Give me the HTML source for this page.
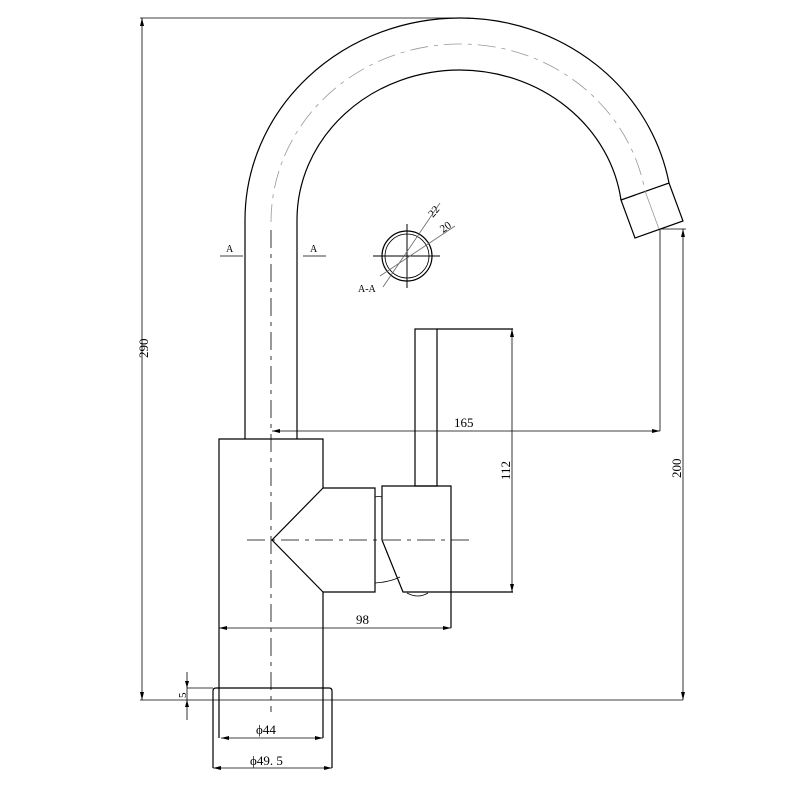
<!DOCTYPE html>
<html><head><meta charset="utf-8"><style>html,body{margin:0;padding:0;background:#fff}svg{display:block}</style></head>
<body>
<svg width="800" height="800" viewBox="0 0 800 800" xmlns="http://www.w3.org/2000/svg" font-family="Liberation Serif, serif" font-size="13" fill="none" stroke="#000">
<g stroke-width="1.2">
<!-- spout -->
<path d="M245,439 L245,220 A215 202 0 0 1 460,18 A212 202 0 0 1 669,183"/>
<path d="M297,439 L297,220 A163 150 0 0 1 460,70 A163 150 0 0 1 621,200"/>
<path d="M621,200 L669,183 L683,221 L635,238 Z"/>
<!-- body -->
<path d="M219,738 L219,439 L323,439 L323,488 L375,488 L375,592 L323,592 L323,738"/>
<path d="M323,488 L272,540 L323,592"/>
<!-- handle -->
<path d="M382,540 L382,486 L451,486 L451,628"/>
<path d="M382,540 L403,592 L513,592"/>
<rect x="415" y="329" width="22" height="157"/>
<line x1="437" y1="329" x2="513" y2="329"/>
<!-- base -->
<path d="M213,768 L213,691 Q213,688 216,688 L329,688 Q332,688 332,691 L332,768"/>
</g>
<g stroke-width="0.8">
<path d="M375,497 Q379,496 382,497"/>
<path d="M375,583 Q390,582 400,577"/>
<path d="M407,593 Q418,599 428,593"/>
<!-- centerlines -->
<line x1="271" y1="230" x2="271" y2="712" stroke-dasharray="18,6,4,6"/>
<path d="M271,222 A189 178 0 0 1 460,44 A187 178 0 0 1 645,191" stroke="#999" stroke-dasharray="18,6,4,6"/>
<line x1="247" y1="540" x2="475" y2="540" stroke-dasharray="18,6,4,6"/>
<line x1="645" y1="191" x2="659" y2="229" stroke="#999"/>
<!-- dims -->
<line x1="140" y1="18" x2="470" y2="18"/>
<line x1="142" y1="18" x2="142" y2="700"/>
<line x1="140" y1="700" x2="683" y2="700"/>
<line x1="660" y1="229" x2="686" y2="229"/>
<line x1="660" y1="229" x2="660" y2="431"/>
<line x1="683" y1="229" x2="683" y2="700"/>
<line x1="272" y1="431" x2="660" y2="431"/>
<line x1="512" y1="329" x2="512" y2="592"/>
<line x1="219" y1="628" x2="451" y2="628"/>
<line x1="221" y1="738" x2="323" y2="738"/>
<line x1="213" y1="768" x2="332" y2="768"/>
<line x1="187" y1="672" x2="187" y2="720"/>
<line x1="187" y1="688" x2="213" y2="688"/>
<!-- section marks -->
<line x1="220" y1="256" x2="243" y2="256"/>
<line x1="303" y1="256" x2="326" y2="256"/>
<!-- section circle -->
<circle cx="407" cy="256" r="25" stroke-width="1.2"/>
<circle cx="407" cy="256" r="22"/>
<line x1="373" y1="256" x2="440" y2="256" stroke-width="1"/>
<line x1="407" y1="224" x2="407" y2="288" stroke-width="1"/>
<line x1="383" y1="287" x2="440" y2="203" stroke="#666"/>
<line x1="380" y1="276" x2="455" y2="226" stroke="#666"/>
</g>
<g fill="#000" stroke="none">
<path d="M142,18 l-2,8 h4z M142,700 l-2,-8 h4z M683,229 l-2,8 h4z M683,700 l-2,-8 h4z M272,431 l8,-2 v4z M660,431 l-8,-2 v4z M512,329 l-2,8 h4z M512,592 l-2,-8 h4z M219,628 l8,-2 v4z M451,628 l-8,-2 v4z M221,738 l8,-2 v4z M323,738 l-8,-2 v4z M213,768 l8,-2 v4z M332,768 l-8,-2 v4z M187,688 l-2,-7 h4z M187,700 l-2,7 h4z"/>
</g>
<g fill="#000" stroke="none">
<text x="226" y="252" font-size="10">A</text>
<text x="310" y="252" font-size="10">A</text>
<text x="358" y="292" font-size="10">A-A</text>
<text transform="translate(433,218) rotate(-50)" font-size="11">22</text>
<text transform="translate(443,233) rotate(-35)" font-size="11">20</text>
<text transform="translate(148,358) rotate(-90)">290</text>
<text x="454" y="427">165</text>
<text transform="translate(510,480) rotate(-90)">112</text>
<text transform="translate(681,478) rotate(-90)">200</text>
<text x="356" y="624">98</text>
<text transform="translate(186,698) rotate(-90)" font-size="11">5</text>
<text x="256" y="734">ϕ44</text>
<text x="250" y="765">ϕ49. 5</text>
</g>
</svg>
</body></html>
